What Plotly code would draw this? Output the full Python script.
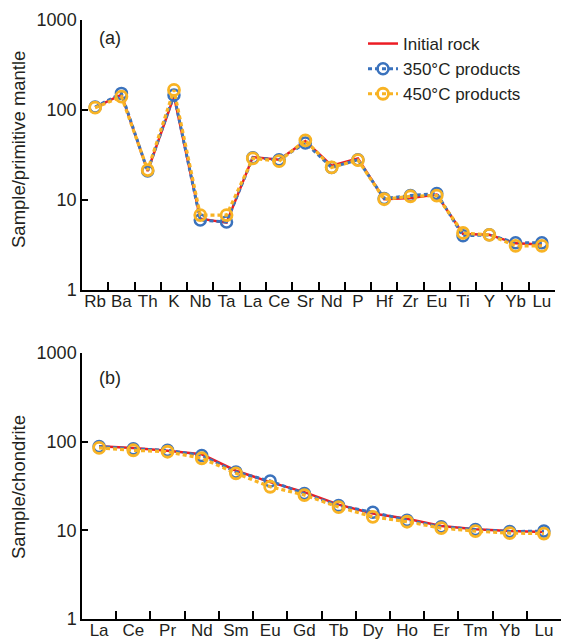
import plotly.graph_objects as go

# ---- data ----
pm_elements = ["Rb", "Ba", "Th", "K", "Nb", "Ta", "La", "Ce", "Sr", "Nd", "P", "Hf", "Zr", "Eu", "Ti", "Y", "Yb", "Lu"]
pm_initial = [107, 148, 21, 142, 6.2, 5.6, 30, 28, 45, 24, 29, 10.2, 10.5, 11.5, 4.2, 4.1, 3.3, 3.2]
pm_350 = [108, 153, 21, 147, 6.0, 5.7, 29.5, 28, 43, 23, 28, 10.4, 11.2, 11.8, 4.0, 4.1, 3.35, 3.35]
pm_450 = [106, 141, 21.5, 167, 6.8, 6.8, 29, 27, 46, 23, 27.8, 10.2, 11.0, 11.2, 4.3, 4.1, 3.1, 3.1]

ree_elements = ["La", "Ce", "Pr", "Nd", "Sm", "Eu", "Gd", "Tb", "Dy", "Ho", "Er", "Tm", "Yb", "Lu"]
ree_initial = [89, 85, 79, 72, 47, 35, 27, 19.5, 15.5, 13.5, 11.2, 10.3, 9.8, 9.6]
ree_350 = [88, 83, 80, 70, 45.5, 36, 26, 19, 16, 13, 11, 10.2, 9.7, 9.8]
ree_450 = [85, 80, 77, 65, 44, 31, 25, 18.3, 14.2, 12.5, 10.6, 9.8, 9.3, 9.2]

y_ticks = [1, 10, 100, 1000]
y_ticktext = ["1", "10", "100", "1000"]

RED = "#ec1c24"
BLUE = "#3a72bd"
ORANGE = "#f8b324"
TXT = "#231f20"
FONT = "Liberation Sans, Arial, sans-serif"

fig = go.Figure()

def add_set(cats, ini, s350, s450, xa, ya, show):
    fig.add_trace(go.Scatter(x=cats, y=ini, mode="lines", name="Initial rock",
                             line=dict(color=RED, width=2.5), xaxis=xa, yaxis=ya,
                             showlegend=show, legendgroup="a"))
    fig.add_trace(go.Scatter(x=cats, y=s350, mode="lines+markers", name="350°C products",
                             line=dict(color=BLUE, width=3, dash="4px,3px"),
                             marker=dict(symbol="circle-open", size=11, color=BLUE, line=dict(width=2.5, color=BLUE)),
                             xaxis=xa, yaxis=ya, showlegend=show, legendgroup="b"))
    fig.add_trace(go.Scatter(x=cats, y=s450, mode="lines+markers", name="450°C products",
                             line=dict(color=ORANGE, width=3.2, dash="4px,3px"),
                             marker=dict(symbol="circle-open", size=11, color=ORANGE, line=dict(width=2.8, color=ORANGE)),
                             xaxis=xa, yaxis=ya, showlegend=show, legendgroup="c"))

add_set(pm_elements, pm_initial, pm_350, pm_450, "x", "y", True)
add_set(ree_elements, ree_initial, ree_350, ree_450, "x2", "y2", False)

W, H = 563, 641
L, R, T, B = 82, 2, 20, 22
pw = W - L - R
ph = H - T - B

def px_x(p):
    return (p - L) / pw

def px_y(p):
    return 1 - (p - T) / ph

xcommon = dict(type="category", showline=True, linecolor="black", linewidth=1.5,
               ticks="inside", tickson="boundaries", ticklen=8, tickwidth=1.5, tickcolor="black",
               showgrid=False, zeroline=False, mirror=False, tickangle=0, automargin=False,
               ticklabelstandoff=-5,
               tickfont=dict(size=17, color=TXT, family=FONT))
ycommon = dict(type="log", range=[0, 3], showline=True, linecolor="black", linewidth=1.5,
               ticks="inside", ticklen=6, tickwidth=1.5, tickcolor="black", automargin=False,
               tickvals=y_ticks, ticktext=y_ticktext, showgrid=False, zeroline=False,
               tickfont=dict(size=18, color=TXT, family=FONT))

fig.update_layout(
    width=W, height=H,
    margin=dict(l=L, r=R, t=T, b=B, autoexpand=False),
    paper_bgcolor="white", plot_bgcolor="white",
    font=dict(family=FONT, color=TXT),
    xaxis=dict(xcommon, domain=[0, px_x(555)], range=[-0.5, 17.5], anchor="y"),
    yaxis=dict(ycommon, domain=[px_y(290), 1], anchor="x"),
    xaxis2=dict(xcommon, domain=[0, 1], range=[-0.5, 13.5], anchor="y2"),
    yaxis2=dict(ycommon, domain=[0, px_y(353)], anchor="x2"),
    legend=dict(x=px_x(363), y=px_y(26), xanchor="left", yanchor="top",
                font=dict(size=17, color=TXT, family=FONT), bgcolor="rgba(0,0,0,0)",
                tracegroupgap=0, itemwidth=30),
    showlegend=True,
)

fig.add_annotation(text="Sample/primitive mantle", x=-(L - 18) / pw, y=px_y(150), xref="paper", yref="paper",
                   xanchor="center", yanchor="middle",
                   textangle=-90, showarrow=False, font=dict(size=18.5, color=TXT, family=FONT))
fig.add_annotation(text="Sample/chondrite", x=-(L - 18) / pw, y=px_y(487), xref="paper", yref="paper",
                   xanchor="center", yanchor="middle",
                   textangle=-90, showarrow=False, font=dict(size=18.5, color=TXT, family=FONT))
fig.add_annotation(text="(a)", x=px_x(97), y=px_y(38), xref="paper", yref="paper", xanchor="left",
                   yanchor="middle", showarrow=False, font=dict(size=18, color=TXT, family=FONT))
fig.add_annotation(text="(b)", x=px_x(97), y=px_y(378), xref="paper", yref="paper", xanchor="left",
                   yanchor="middle", showarrow=False, font=dict(size=18, color=TXT, family=FONT))

fig.write_html("out.html")
